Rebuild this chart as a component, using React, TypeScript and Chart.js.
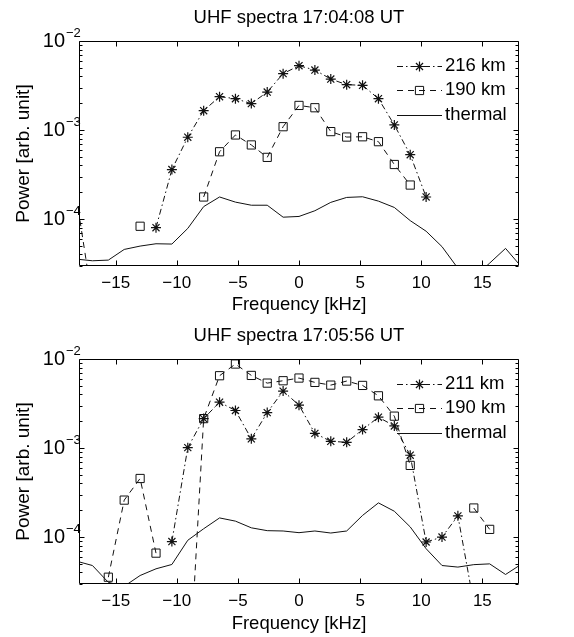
import React, { useEffect, useRef } from 'react';
import { Chart, registerables } from 'chart.js';

Chart.register(...registerables);

const FONT = '"Liberation Sans", Arial, Helvetica, sans-serif';

// Frequency grid (kHz)
const freqKHz = [
  -18.2, -16.9, -15.6, -14.3, -13.0, -11.7, -10.4, -9.1, -7.8, -6.5, -5.2, -3.9, -2.6, -1.3, 0,
  1.3, 2.6, 3.9, 5.2, 6.5, 7.8, 9.1, 10.4, 11.7, 13.0, 14.3, 15.6, 16.9, 18.2,
];

const xTickValues = [-15, -10, -5, 0, 5, 10, 15];
const yTickValues = [1e-4, 1e-3, 1e-2];
const yTickBase = '10';
const yTickExponents = ['\u22124', '\u22123', '\u22122'];

// Panel 1: 17:04:08 UT
const title1 = 'UHF spectra 17:04:08 UT';
const p1Label216 = '216 km';
const p1Power216 = [
  null, null, null, null, null, 8.0e-5, 3.6e-4, 8.3e-4, 1.65e-3, 2.37e-3, 2.25e-3, 1.98e-3, 2.67e-3, 4.3e-3, 5.28e-3,
  4.72e-3, 3.74e-3, 3.23e-3, 3.18e-3, 2.25e-3, 1.14e-3, 5.28e-4, 1.77e-4, null, null, null, null, null, null,
];
const p1Label190 = '190 km';
const p1Power190 = [
  1.7e-4, 1.2e-5, null, null, 8.3e-5, null, null, null, 1.77e-4, 5.7e-4, 8.8e-4, 6.8e-4, 4.93e-4, 1.09e-3, 1.89e-3,
  1.78e-3, 9.6e-4, 8.34e-4, 8.4e-4, 7.4e-4, 4.1e-4, 2.41e-4, null, null, null, null, null, null, null,
];
const p1PowerThermal = [
  3.55e-5, 3.4e-5, 3.46e-5, 4.56e-5, 4.97e-5, 5.28e-5, 5.24e-5, 7.85e-5, 1.38e-4, 1.77e-4, 1.55e-4, 1.43e-4, 1.43e-4, 1.05e-4, 1.07e-4,
  1.24e-4, 1.54e-4, 1.75e-4, 1.78e-4, 1.59e-4, 1.35e-4, 9.6e-5, 7.3e-5, 4.9e-5, 2.8e-5, 2.2e-5, 3.2e-5, 4.68e-5, 2.9e-5,
];

// Panel 2: 17:05:56 UT
const title2 = 'UHF spectra 17:05:56 UT';
const p2Label211 = '211 km';
const p2Power211 = [
  null, null, null, null, null, null, 8.9e-5, 1.01e-3, 2.14e-3, 3.27e-3, 2.64e-3, 1.27e-3, 2.5e-3, 4.36e-3, 3.03e-3,
  1.46e-3, 1.19e-3, 1.16e-3, 1.61e-3, 2.22e-3, 1.77e-3, 8.3e-4, 8.8e-5, 1.0e-4, 1.73e-4, 1.8e-5, null, null, null,
];
const p2Label190 = '190 km';
const p2Power190 = [
  null, null, 3.54e-5, 2.6e-4, 4.55e-4, 6.6e-5, null, 1.4e-6, 2.14e-3, 6.49e-3, 8.78e-3, 6.54e-3, 5.36e-3, 5.7e-3, 6.11e-3,
  5.46e-3, 5.09e-3, 5.65e-3, 5.05e-3, 3.86e-3, 2.28e-3, 6.38e-4, null, null, null, 2.12e-4, 1.22e-4, null, null,
];
const p2PowerThermal = [
  5.36e-5, 4.79e-5, 3.1e-5, 2.8e-5, 3.7e-5, 4.4e-5, 4.92e-5, 9.2e-5, 1.24e-4, 1.64e-4, 1.51e-4, 1.27e-4, 1.18e-4, 1.17e-4, 1.12e-4,
  1.17e-4, 1.11e-4, 1.17e-4, 1.75e-4, 2.42e-4, 1.95e-4, 1.3e-4, 7.4e-5, 4.79e-5, 4.6e-5, 4.9e-5, 5.0e-5, 3.8e-5, 4.96e-5,
];

const thermalLabel = 'thermal';
const xTitle = 'Frequency [kHz]';
const yTitle = 'Power [arb. unit]';

const X_MIN = -18;
const X_MAX = 18;
const Y_MIN = 2.97e-5;
const Y_MAX = 1e-2;

const DASH_DOT = [6, 3, 1.5, 3];
const DASHED = [6, 5];
const INK = '#111';
const TEXT_SIZE = 18.5;

type Kind = 'star' | 'square' | 'thermal';
type Series = { label: string; values: (number | null)[]; kind: Kind };

function radiusInside(r: number) {
  return (c: any) => {
    const p = c.parsed;
    if (!p || p.x < X_MIN || p.x > X_MAX || p.y < Y_MIN || p.y > Y_MAX) return 0;
    return r;
  };
}

function datasetFor(s: Series) {
  const data = freqKHz.map((f, i) => ({ x: f, y: s.values[i] }));
  const base: any = {
    label: s.label,
    data,
    borderColor: INK,
    borderWidth: 1,
    tension: 0,
    spanGaps: false,
    pointBorderColor: INK,
    pointBackgroundColor: 'rgba(0,0,0,0)',
    pointBorderWidth: 1,
  };
  if (s.kind === 'star') {
    return { ...base, borderDash: DASH_DOT, pointStyle: 'star', pointRadius: radiusInside(5), pointBorderWidth: 1.2 };
  }
  if (s.kind === 'square') {
    return { ...base, borderDash: DASHED, pointStyle: 'rect', pointRadius: radiusInside(5.8) };
  }
  return { ...base, pointRadius: 0 };
}

function drawMarker(ctx: CanvasRenderingContext2D, kind: Kind, x: number, y: number) {
  ctx.setLineDash([]);
  ctx.beginPath();
  if (kind === 'star') {
    const r = 5;
    ctx.lineWidth = 1.2;
    for (let k = 0; k < 4; k++) {
      const a = (k * Math.PI) / 4;
      ctx.moveTo(x + Math.cos(a) * r, y + Math.sin(a) * r);
      ctx.lineTo(x - Math.cos(a) * r, y - Math.sin(a) * r);
    }
    ctx.stroke();
    ctx.lineWidth = 1;
  } else if (kind === 'square') {
    const h = 5.8 * Math.SQRT1_2;
    ctx.rect(x - h, y - h, 2 * h, 2 * h);
    ctx.stroke();
  }
}

function makeAxesPlugin(title: string, series: Series[]) {
  return {
    id: 'matlabAxes',
    afterDatasetsDraw(chart: any) {
      const { ctx, chartArea: a, scales } = chart;
      const x = scales.x;
      const y = scales.y;
      ctx.save();
      ctx.strokeStyle = '#000';
      ctx.lineWidth = 1;
      ctx.setLineDash([]);
      const L = Math.round(a.left) + 0.5;
      const R = Math.round(a.right) - 0.5;
      const T = Math.round(a.top) + 0.5;
      const B = Math.round(a.bottom) - 0.5;
      ctx.beginPath();
      ctx.rect(L, T, R - L, B - T);
      ctx.stroke();
      ctx.beginPath();
      for (const v of xTickValues) {
        const px = Math.round(x.getPixelForValue(v)) + 0.5;
        ctx.moveTo(px, B);
        ctx.lineTo(px, B - 5);
        ctx.moveTo(px, T);
        ctx.lineTo(px, T + 5);
      }
      for (let d = -6; d <= -2; d++) {
        for (let m = 1; m <= 9; m++) {
          const v = m * Math.pow(10, d);
          if (v < Y_MIN || v > Y_MAX * 1.0001) continue;
          const py = Math.round(y.getPixelForValue(v)) + 0.5;
          const len = m === 1 ? 5 : 3;
          ctx.moveTo(L, py);
          ctx.lineTo(L + len, py);
          ctx.moveTo(R, py);
          ctx.lineTo(R - len, py);
        }
      }
      ctx.stroke();

      // title centred over the plot box
      ctx.fillStyle = '#000';
      ctx.font = `${TEXT_SIZE}px ${FONT}`;
      ctx.textAlign = 'center';
      ctx.textBaseline = 'middle';
      ctx.fillText(title, (a.left + a.right) / 2, 18);

      // exponents of the y tick labels
      ctx.font = `13px ${FONT}`;
      ctx.textAlign = 'left';
      yTickValues.forEach((v, i) => {
        const py = y.getPixelForValue(v);
        ctx.fillText(yTickExponents[i], y.right - 13, py - 8);
      });

      // legend (transparent, inside top-right)
      ctx.font = `${TEXT_SIZE}px ${FONT}`;
      ctx.textBaseline = 'middle';
      ctx.textAlign = 'left';
      series.forEach((s, i) => {
        const cy = a.top + 24.7 + i * 24.5;
        const x0 = a.right - 122;
        const x1 = a.right - 77;
        ctx.strokeStyle = INK;
        ctx.setLineDash(s.kind === 'star' ? DASH_DOT : s.kind === 'square' ? DASHED : []);
        ctx.beginPath();
        ctx.moveTo(x0, Math.round(cy) + 0.5);
        ctx.lineTo(x1, Math.round(cy) + 0.5);
        ctx.stroke();
        drawMarker(ctx, s.kind, (x0 + x1) / 2, Math.round(cy) + 0.5);
        ctx.fillText(s.label, a.right - 74, cy);
      });
      ctx.restore();
    },
  };
}

function SpectrumPanel({ title, series, height }: { title: string; series: Series[]; height: number }) {
  const ref = useRef<HTMLCanvasElement | null>(null);
  useEffect(() => {
    if (!ref.current) return;
    const chart = new Chart(ref.current, {
      type: 'line',
      data: { datasets: series.map(datasetFor) },
      options: {
        animation: false,
        responsive: false,
        maintainAspectRatio: false,
        devicePixelRatio: 1,
        layout: { padding: { left: 0, right: 55, top: 41, bottom: 0 } },
        plugins: {
          legend: { display: false },
          tooltip: { enabled: false },
          title: { display: false },
        },
        scales: {
          x: {
            type: 'linear',
            min: X_MIN,
            max: X_MAX,
            grid: { display: false, drawTicks: false },
            border: { display: false },
            afterBuildTicks: (scale: any) => {
              scale.ticks = xTickValues.map((v) => ({ value: v }));
            },
            afterFit: (scale: any) => {
              scale.height = height - 266;
            },
            ticks: {
              color: '#000',
              font: { family: FONT, size: 17 },
              padding: 7,
              autoSkip: false,
              maxRotation: 0,
              callback: (v: any) => (Number(v) < 0 ? '\u2212' + Math.abs(Number(v)) : String(v)),
            },
            title: {
              display: true,
              text: xTitle,
              color: '#000',
              font: { family: FONT, size: TEXT_SIZE },
              padding: { top: 0, bottom: 2 },
            },
          },
          y: {
            type: 'logarithmic',
            min: Y_MIN,
            max: Y_MAX,
            grid: { display: false, drawTicks: false },
            border: { display: false },
            afterBuildTicks: (scale: any) => {
              scale.ticks = yTickValues.map((v) => ({ value: v, major: true }));
            },
            afterFit: (scale: any) => {
              scale.width = 79;
            },
            ticks: {
              color: '#000',
              font: { family: FONT, size: 20 },
              padding: 14,
              autoSkip: false,
              callback: () => yTickBase,
            },
            title: {
              display: true,
              text: yTitle,
              color: '#000',
              font: { family: FONT, size: 19 },
              padding: { top: 12.5, bottom: 0 },
            },
          },
        },
      } as any,
      plugins: [makeAxesPlugin(title, series)],
    });
    return () => chart.destroy();
  }, []);
  return <canvas ref={ref} width={574} height={height} style={{ display: 'block', width: 574, height }} />;
}

export default function App() {
  const panel1: Series[] = [
    { label: p1Label216, values: p1Power216, kind: 'star' },
    { label: p1Label190, values: p1Power190, kind: 'square' },
    { label: thermalLabel, values: p1PowerThermal, kind: 'thermal' },
  ];
  const panel2: Series[] = [
    { label: p2Label211, values: p2Power211, kind: 'star' },
    { label: p2Label190, values: p2Power190, kind: 'square' },
    { label: thermalLabel, values: p2PowerThermal, kind: 'thermal' },
  ];
  return (
    <div style={{ position: 'absolute', left: 0, top: 0, width: 574, height: 637, background: '#fff' }}>
      <SpectrumPanel title={title1} series={panel1} height={318} />
      <SpectrumPanel title={title2} series={panel2} height={319} />
    </div>
  );
}
